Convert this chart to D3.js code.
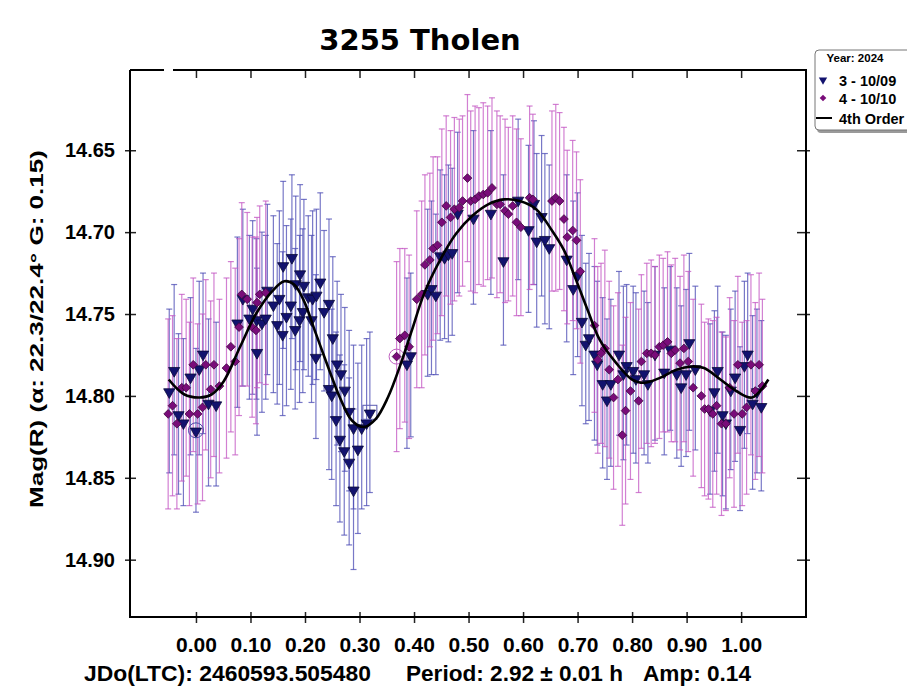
<!DOCTYPE html>
<html><head><meta charset="utf-8">
<script src="https://cdn.jsdelivr.net/npm/d3@7"></script>
<style>body{margin:0;background:#fff}</style>
</head><body>
<svg id="c" width="909" height="692"></svg>
<script>
// ---- Data ----
const title = "3255 Tholen";
const xTicks = [0.0,0.1,0.2,0.3,0.4,0.5,0.6,0.7,0.8,0.9,1.0];
const yTicks = [14.65,14.70,14.75,14.80,14.85,14.90];
const legendTitle = "Year: 2024";
const seriesNames = ["3 - 10/09", "4 - 10/10", "4th Order"];

const s3Phase = [-0.049,-0.040,-0.032,-0.023,-0.010,0.000,0.006,0.013,0.023,0.037,
 0.076,0.086,0.098,0.104,0.111,0.112,0.121,0.128,0.131,0.142,
 0.149,0.153,0.159,0.160,0.166,0.174,0.176,0.182,0.183,0.190,
 0.191,0.196,0.198,0.206,0.212,0.214,0.220,0.221,0.228,0.235,
 0.244,0.244,0.249,0.251,0.257,0.259,0.264,0.266,0.272,0.273,
 0.281,0.281,0.289,0.289,0.297,0.304,0.313,0.319,0.387,0.394,
 0.425,0.432,0.440,0.448,0.456,0.463,0.470,0.480,0.509,0.541,
 0.564,0.591,0.610,0.620,0.625,0.634,0.640,0.648,0.680,0.692,
 0.700,0.708,0.715,0.721,0.731,0.736,0.746,0.754,0.761,0.776,
 0.784,0.790,0.802,0.807,0.822,0.829,0.842,0.859,0.870,0.882,
 0.890,0.899,0.905,0.916,0.943,0.951,0.957,0.966,0.972,0.981,
 0.989,0.998,1.006,1.012,1.021,1.029,1.037];
const s3Mag = [14.797,14.784,14.811,14.816,14.788,14.821,14.783,14.774,14.804,14.805,
 14.755,14.740,14.752,14.746,14.753,14.773,14.755,14.752,14.735,14.744,
 14.756,14.740,14.762,14.720,14.751,14.744,14.715,14.759,14.731,14.753,
 14.725,14.748,14.732,14.739,14.753,14.740,14.776,14.738,14.730,14.748,
 14.743,14.795,14.799,14.764,14.814,14.780,14.826,14.786,14.833,14.796,
 14.809,14.840,14.819,14.857,14.832,14.819,14.816,14.810,14.780,14.775,
 14.737,14.734,14.738,14.714,14.715,14.713,14.712,14.688,14.691,14.688,
 14.717,14.680,14.698,14.682,14.705,14.690,14.704,14.709,14.716,14.734,
 14.726,14.754,14.768,14.764,14.774,14.780,14.792,14.802,14.792,14.774,
 14.786,14.781,14.784,14.789,14.786,14.792,14.774,14.785,14.771,14.786,
 14.794,14.786,14.767,14.783,14.808,14.797,14.784,14.811,14.816,14.796,
 14.788,14.820,14.781,14.774,14.804,14.797,14.806];
const s3Err = [0.050,0.052,0.049,0.051,0.048,0.050,0.053,0.049,0.051,0.050,
 0.052,0.054,0.050,0.053,0.049,0.051,0.055,0.050,0.052,0.054,
 0.049,0.053,0.050,0.051,0.055,0.052,0.050,0.049,0.053,0.051,
 0.054,0.050,0.052,0.049,0.051,0.053,0.050,0.052,0.054,0.049,
 0.051,0.050,0.052,0.049,0.053,0.050,0.051,0.048,0.052,0.050,
 0.049,0.051,0.050,0.049,0.052,0.050,0.051,0.049,0.052,0.050,
 0.051,0.053,0.049,0.052,0.050,0.054,0.051,0.049,0.053,0.050,
 0.052,0.049,0.051,0.050,0.053,0.049,0.052,0.050,0.051,0.053,
 0.050,0.052,0.049,0.051,0.053,0.050,0.052,0.049,0.051,0.050,
 0.053,0.049,0.051,0.052,0.050,0.049,0.053,0.051,0.050,0.052,
 0.049,0.051,0.054,0.050,0.052,0.049,0.051,0.050,0.053,0.049,
 0.052,0.050,0.051,0.049,0.053,0.050,0.052];

const s4Phase = [-0.051,-0.043,-0.035,-0.026,-0.018,-0.012,-0.005,0.003,0.012,0.018,
 0.027,0.033,0.043,0.056,0.064,0.072,0.079,0.084,0.094,0.103,
 0.110,0.112,0.117,0.128,0.368,0.374,0.383,0.391,0.405,0.414,
 0.420,0.429,0.435,0.443,0.451,0.459,0.467,0.474,0.483,0.489,
 0.498,0.504,0.512,0.519,0.527,0.535,0.543,0.552,0.558,0.567,
 0.573,0.581,0.588,0.596,0.612,0.618,0.653,0.660,0.667,0.675,
 0.681,0.691,0.698,0.705,0.731,0.737,0.743,0.750,0.758,0.766,
 0.774,0.782,0.788,0.797,0.812,0.817,0.827,0.835,0.842,0.850,
 0.857,0.865,0.872,0.879,0.888,0.895,0.903,0.912,0.927,0.933,
 0.940,0.948,0.955,0.964,0.972,0.979,0.987,0.994,1.002,1.010,
 1.018,1.026,1.033,1.039];
const s4Mag = [14.811,14.806,14.817,14.795,14.795,14.811,14.781,14.811,14.807,14.781,
 14.796,14.781,14.794,14.783,14.770,14.779,14.758,14.738,14.741,14.758,
 14.760,14.743,14.738,14.737,14.776,14.765,14.763,14.770,14.741,14.738,
 14.720,14.717,14.710,14.708,14.694,14.684,14.691,14.686,14.685,14.681,
 14.667,14.681,14.680,14.678,14.677,14.676,14.673,14.683,14.683,14.687,
 14.689,14.684,14.694,14.697,14.679,14.680,14.681,14.679,14.681,14.692,
 14.703,14.699,14.705,14.724,14.757,14.778,14.774,14.771,14.784,14.801,
 14.790,14.824,14.809,14.797,14.803,14.779,14.774,14.774,14.775,14.770,
 14.769,14.767,14.774,14.772,14.780,14.771,14.779,14.795,14.800,14.808,
 14.808,14.811,14.806,14.817,14.817,14.795,14.811,14.781,14.811,14.807,
 14.781,14.797,14.781,14.794];
const s4Err = [0.058,0.055,0.052,0.057,0.054,0.056,0.053,0.055,0.057,0.052,
 0.054,0.056,0.053,0.055,0.052,0.057,0.054,0.056,0.053,0.055,
 0.057,0.052,0.054,0.056,0.058,0.055,0.053,0.056,0.054,0.057,
 0.055,0.053,0.056,0.054,0.057,0.055,0.053,0.056,0.054,0.052,
 0.051,0.055,0.057,0.054,0.056,0.053,0.055,0.057,0.054,0.056,
 0.053,0.055,0.057,0.054,0.056,0.052,0.055,0.057,0.054,0.056,
 0.053,0.055,0.054,0.056,0.053,0.057,0.055,0.060,0.054,0.056,
 0.053,0.055,0.057,0.054,0.056,0.053,0.055,0.057,0.054,0.056,
 0.053,0.055,0.054,0.056,0.053,0.057,0.055,0.054,0.056,0.053,
 0.055,0.057,0.054,0.056,0.053,0.055,0.057,0.054,0.056,0.053,
 0.055,0.054,0.056,0.053];

// first / last point marks (indices into the arrays)
const s3CircleIdx = 5, s3SquareIdx = 57, s4CircleIdx = 24;

const fitPhase = [-0.050,-0.022,0.007,0.029,0.051,0.081,0.110,0.140,0.162,0.180,
 0.198,0.220,0.242,0.264,0.286,0.308,0.330,0.352,0.374,0.396,
 0.418,0.448,0.477,0.507,0.536,0.565,0.594,0.624,0.653,0.675,
 0.697,0.719,0.741,0.771,0.800,0.822,0.851,0.881,0.910,0.932,
 0.962,0.991,1.020,1.050];
const fitMag = [14.790,14.799,14.801,14.799,14.791,14.770,14.750,14.736,14.730,14.732,
 14.742,14.762,14.782,14.801,14.815,14.819,14.814,14.801,14.782,14.760,
 14.738,14.717,14.701,14.690,14.683,14.680,14.681,14.686,14.699,14.711,
 14.729,14.748,14.766,14.780,14.790,14.792,14.789,14.784,14.782,14.783,
 14.790,14.797,14.801,14.790];

// ---- Chart ----
const svg = d3.select('#c');
const L = 130, R = 806, T = 70, B = 617;
const x = d3.scaleLinear().domain([-0.121, 1.119]).range([L, R]);
const y = d3.scaleLinear().domain([14.601, 14.935]).range([T, B]);
const FONT = "'Liberation Sans', Arial, sans-serif";

svg.append('defs').append('clipPath').attr('id','plotclip')
  .append('rect').attr('x',L).attr('y',T).attr('width',R-L).attr('height',B-T);

const s3 = s3Phase.map((p,i)=>({p, m:s3Mag[i], e:s3Err[i]}));
const s4 = s4Phase.map((p,i)=>({p, m:s4Mag[i], e:s4Err[i]}));

const plot = svg.append('g').attr('clip-path','url(#plotclip)');

function errBars(data, color){
  const g = plot.append('g').attr('stroke', color).attr('stroke-width', 1.2).attr('fill','none');
  const eg = g.selectAll('g').data(data).join('g');
  eg.append('line').attr('x1',d=>x(d.p)).attr('x2',d=>x(d.p))
    .attr('y1',d=>y(d.m-d.e)).attr('y2',d=>y(d.m+d.e));
  eg.append('line').attr('x1',d=>x(d.p)-3).attr('x2',d=>x(d.p)+3)
    .attr('y1',d=>y(d.m-d.e)).attr('y2',d=>y(d.m-d.e));
  eg.append('line').attr('x1',d=>x(d.p)-3).attr('x2',d=>x(d.p)+3)
    .attr('y1',d=>y(d.m+d.e)).attr('y2',d=>y(d.m+d.e));
}
errBars(s3, 'rgba(75,75,180,0.75)');
errBars(s4, 'rgba(195,85,195,0.75)');

const triPath = d3.symbol(d3.symbolTriangle, 54)();
const diaPath = d3.symbol(d3.symbolSquare, 38)();

plot.append('g').selectAll('path').data(s3).join('path')
  .attr('d', triPath)
  .attr('transform', d=>`translate(${x(d.p)},${y(d.m)+1}) rotate(180)`)
  .attr('fill','#12126e').attr('stroke','#0a0a38').attr('stroke-width',0.8);

plot.append('g').selectAll('path').data(s4).join('path')
  .attr('d', diaPath)
  .attr('transform', d=>`translate(${x(d.p)},${y(d.m)}) rotate(45)`)
  .attr('fill','#790c79').attr('stroke','#420842').attr('stroke-width',0.8);

// first/last point marks
plot.append('circle').attr('cx', x(s3[s3CircleIdx].p)).attr('cy', y(s3[s3CircleIdx].m))
  .attr('r', 7.5).attr('fill','none').attr('stroke','#4a4aa8').attr('stroke-width',1);
plot.append('rect').attr('x', x(s3[s3SquareIdx].p)-7).attr('y', y(s3[s3SquareIdx].m)-7)
  .attr('width',14).attr('height',14).attr('fill','none').attr('stroke','#5a5ab0').attr('stroke-width',1);
plot.append('circle').attr('cx', x(s4[s4CircleIdx].p)).attr('cy', y(s4[s4CircleIdx].m))
  .attr('r', 7.5).attr('fill','none').attr('stroke','#c060c0').attr('stroke-width',1);

// fit curve
const fit = fitPhase.map((p,i)=>({p, m:fitMag[i]}));
plot.append('path').datum(fit)
  .attr('d', d3.line().x(d=>x(d.p)).y(d=>y(d.m)).curve(d3.curveCatmullRom))
  .attr('fill','none').attr('stroke','#000').attr('stroke-width',2.6);

// ---- Axes ----
const fmt = d3.format('.2f');
function styleAxis(g){
  g.select('.domain').remove();
  g.selectAll('.tick line').attr('stroke','#222').attr('stroke-width',1.5);
  g.attr('font-family', FONT).attr('font-weight','bold');
  g.selectAll('text').attr('fill','#000');
}
// bottom
svg.append('g').attr('transform',`translate(0,${B})`)
  .call(d3.axisBottom(x).tickValues(xTicks).tickFormat(fmt).tickSizeInner(6).tickSizeOuter(0).tickPadding(14))
  .call(styleAxis).attr('font-size',21);
svg.append('g').attr('transform',`translate(0,${B})`)
  .call(d3.axisTop(x).tickValues(xTicks).tickFormat('').tickSize(5)).call(styleAxis);
// top
svg.append('g').attr('transform',`translate(0,${T})`)
  .call(d3.axisBottom(x).tickValues(xTicks).tickFormat('').tickSize(8)).call(styleAxis);
// left
svg.append('g').attr('transform',`translate(${L},0)`)
  .call(d3.axisLeft(y).tickValues(yTicks).tickFormat(fmt).tickSizeInner(5).tickSizeOuter(0).tickPadding(10))
  .call(styleAxis).attr('font-size',20);
svg.append('g').attr('transform',`translate(${L},0)`)
  .call(d3.axisRight(y).tickValues(yTicks).tickFormat('').tickSize(6)).call(styleAxis);
// right
svg.append('g').attr('transform',`translate(${R},0)`)
  .call(d3.axisLeft(y).tickValues(yTicks).tickFormat('').tickSize(9)).call(styleAxis);
svg.append('g').attr('transform',`translate(${R},0)`)
  .call(d3.axisRight(y).tickValues(yTicks).tickFormat('').tickSize(4)).call(styleAxis);

// frame
svg.append('path')
  .attr('d', `M${L},${T} L${L},${B} L${R},${B} L${R},${T} L173,${T} M164,${T} L${L},${T}`)
  .attr('fill','none').attr('stroke','#000').attr('stroke-width',2);

// ---- Texts ----
svg.append('text').attr('x',420).attr('y',50).attr('text-anchor','middle')
  .attr('font-family',"'DejaVu Sans', sans-serif").attr('font-weight','bold').attr('font-size',29)
  .text(title);

svg.append('text').attr('transform','translate(43,329) rotate(-90)').attr('text-anchor','middle')
  .attr('font-family',FONT).attr('font-weight','bold').attr('font-size',19)
  .attr('textLength',358).attr('lengthAdjust','spacingAndGlyphs')
  .text('Mag(R)   (\u03b1: 22.3/22.4\u00b0  G: 0.15)');

const foot = [
  {t:'JDo(LTC): 2460593.505480', x:84, w:287},
  {t:'Period: 2.92 \u00b1 0.01 h', x:406, w:217},
  {t:'Amp: 0.14', x:643, w:108}
];
svg.append('g').selectAll('text').data(foot).join('text')
  .attr('x',d=>d.x).attr('y',681).attr('font-family',FONT).attr('font-weight','bold').attr('font-size',22)
  .attr('textLength',d=>d.w).attr('lengthAdjust','spacingAndGlyphs').text(d=>d.t);

// ---- Legend ----
svg.select('defs').append('clipPath').attr('id','legclip')
  .append('rect').attr('x',800).attr('y',40).attr('width',107).attr('height',100);
const lg = svg.append('g').attr('clip-path','url(#legclip)');
lg.append('rect').attr('x',817).attr('y',52).attr('width',100).attr('height',81).attr('rx',4)
  .attr('fill','#9a9a9a');
lg.append('rect').attr('x',815).attr('y',50).attr('width',100).attr('height',80).attr('rx',4)
  .attr('fill','#fff').attr('stroke','#777').attr('stroke-width',1);
lg.append('text').attr('x',855).attr('y',62).attr('text-anchor','middle')
  .attr('font-family',FONT).attr('font-weight','bold').attr('font-size',11.5).text(legendTitle);
const rowsY = [80, 98, 118];
lg.append('path').attr('d', d3.symbol(d3.symbolTriangle, 30)())
  .attr('transform',`translate(823,${rowsY[0]}) rotate(180)`).attr('fill','#12126e');
lg.append('path').attr('d', d3.symbol(d3.symbolSquare, 22)())
  .attr('transform',`translate(823,${rowsY[1]}) rotate(45)`).attr('fill','#790c79');
lg.append('line').attr('x1',816).attr('x2',832).attr('y1',rowsY[2]).attr('y2',rowsY[2])
  .attr('stroke','#000').attr('stroke-width',2);
lg.selectAll('text.item').data(seriesNames).join('text').attr('class','item')
  .attr('x',839).attr('y',(d,i)=>rowsY[i]+5.5)
  .attr('font-family',FONT).attr('font-weight','bold').attr('font-size',14.5).text(d=>d);
</script>
</body></html>
